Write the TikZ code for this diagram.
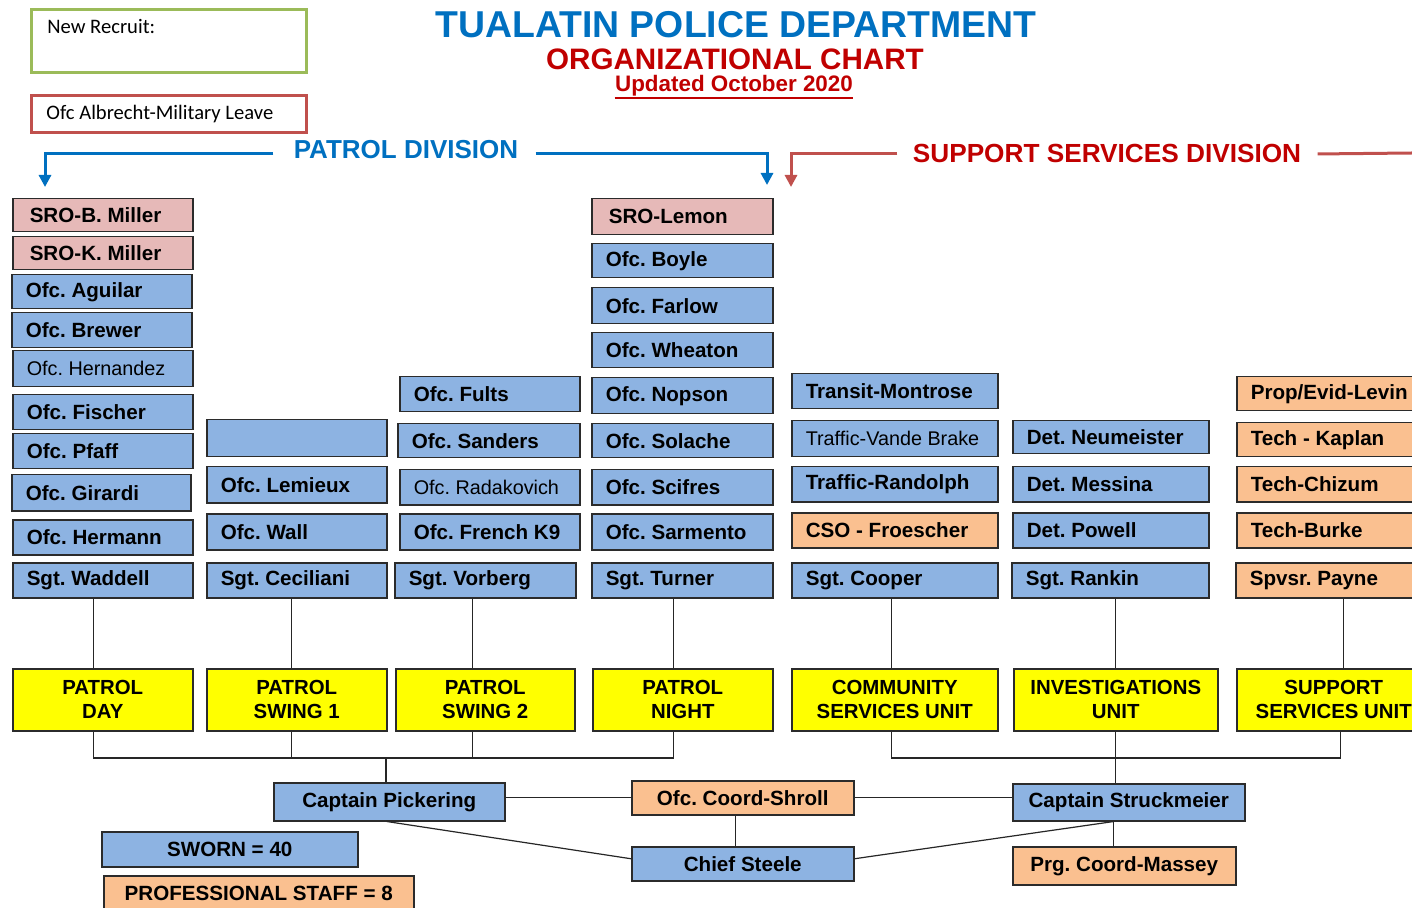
\documentclass[tikz,border=0pt]{standalone}
\usepackage{fontspec}
\setmainfont{Liberation Sans}
\newfontfamily\calfont{Carlito}
\usetikzlibrary{arrows.meta,calc,positioning}
\definecolor{ofcblue}{HTML}{8DB3E2}
\definecolor{sropink}{HTML}{E6B9B8}
\definecolor{civorange}{HTML}{FAC090}
\definecolor{unityellow}{HTML}{FFFF00}
\definecolor{titleblue}{HTML}{0070C0}
\definecolor{titlered}{HTML}{C00000}
\definecolor{ssdred}{HTML}{C0504D}
\definecolor{recruitgreen}{HTML}{9BBB59}
\definecolor{boxline}{HTML}{2B2B2B}

\begin{document}
\begin{tikzpicture}[
  x=0.5pt,y=-0.5pt,
  box/.style={draw=boxline,line width=0.75pt,anchor=north west,inner xsep=7pt,inner ysep=0pt,
              minimum height=17.5pt,align=flush left,
              font=\frenchspacing\fontsize{10.3}{12}\selectfont\bfseries},
  ofc/.style={box,fill=ofcblue},
  sro/.style={box,fill=sropink,inner xsep=8.5pt},
  civ/.style={box,fill=civorange},
  regular/.style={font=\frenchspacing\fontsize{9.9}{12}\selectfont},
  mid/.style={align=flush center},
  c1/.style={text width=76pt},
  c2/.style={text width=76pt},
  c3/.style={text width=76pt},
  c4/.style={text width=76.5pt},
  c5/.style={text width=89pt},
  c6/.style={text width=84pt},
  c7/.style={text width=83pt},
  unit/.style={draw=boxline,line width=0.75pt,fill=unityellow,anchor=north west,inner sep=0pt,
               minimum height=31pt,align=flush center,
               font=\frenchspacing\fontsize{10.2}{12}\selectfont\bfseries},
  link/.style={draw=black!85,line width=0.6pt},
  pdarr/.style={-{Triangle[width=6pt,length=6pt]},line width=1.5pt,titleblue},
  ssarr/.style={-{Triangle[width=6pt,length=6pt]},line width=1.5pt,ssdred},
  ssline/.style={line width=1.5pt,ssdred}
]
  \useasboundingbox (0,0) rectangle (1412,908);
  \clip (0,0) rectangle (1412,908);

  \node[draw=recruitgreen,line width=1.5pt,anchor=north west,minimum width=137.5pt,
        minimum height=31.5pt,inner sep=0pt] (recruit) at (30,8) {};
  \node[anchor=base west,inner sep=0pt,font=\calfont\fontsize{10.3}{12}\selectfont]
    (recruitlbl) at (47,34) {New Recruit:};
  \node[draw=ssdred,line width=1.5pt,anchor=north west,minimum height=18.5pt,text width=122.5pt,
        inner xsep=7.5pt,inner ysep=0pt,align=flush left,font=\calfont\fontsize{10.3}{12}\selectfont]
    (leave) at (30,94) {Ofc Albrecht-Military Leave};

  \node[anchor=base,inner sep=0pt,text=titleblue,font=\fontsize{18.7}{22}\selectfont\bfseries]
    (title) at (736,38) {TUALATIN POLICE DEPARTMENT};
  \node[anchor=base,inner sep=0pt,text=titlered,font=\fontsize{14.8}{18}\selectfont\bfseries]
    (subtitle) at (735,70) {ORGANIZATIONAL CHART};
  \node[anchor=base,inner sep=0pt,text=titlered,font=\fontsize{11.2}{14}\selectfont\bfseries]
    (updated) at (734,92) {Updated October 2020};
  \draw[titlered,line width=1pt] ([yshift=-0.3pt]updated.south west) -- ([yshift=-0.3pt]updated.south east);

  \node[anchor=base,inner sep=0pt,text=titleblue,font=\fontsize{13}{16}\selectfont\bfseries]
    (pdiv) at (406,159) {PATROL DIVISION};
  \node[anchor=base,inner sep=0pt,text=titlered,font=\fontsize{13.1}{16}\selectfont\bfseries]
    (sdiv) at (1107,163) {SUPPORT SERVICES DIVISION};
  \coordinate (pdl) at (45,187);
  \coordinate (pdr) at (767,185);
  \coordinate (sdl) at (791,187);
  \coordinate (sde) at (1412,153);
  \draw[pdarr] ([xshift=-10pt,yshift=-1.5pt]pdiv.west) -| (pdl);
  \draw[pdarr] ([xshift=8.5pt,yshift=-1.5pt]pdiv.east) -| (pdr);
  \draw[ssarr] ([xshift=-7.5pt]sdiv.west) -| (sdl);
  \draw[ssline] ([xshift=8pt]sdiv.east) -- (sde);

  \node[sro,text width=73pt,minimum height=16.5pt] (bmiller) at (12,198) {SRO-B. Miller};
  \node[sro,text width=73pt,minimum height=16.5pt] (kmiller) at (12,236) {SRO-K. Miller};
  \node[ofc,c1,minimum height=17pt] (aguilar) at (11,274) {Ofc. Aguilar};
  \node[ofc,c1] (brewer) at (11,312) {Ofc. Brewer};
  \node[ofc,regular,c1,minimum height=18pt] (hernandez) at (12,350) {Ofc. Hernandez};
  \node[ofc,c1] (fischer) at (12,394) {Ofc. Fischer};
  \node[ofc,c1] (pfaff) at (12,433) {Ofc. Pfaff};
  \node[ofc,text width=75.5pt,minimum height=18pt] (girardi) at (11,474) {Ofc. Girardi};
  \node[ofc,c1] (hermann) at (12,519) {Ofc. Hermann};
  \node[ofc,c1] (waddell) at (12,562) {Sgt. Waddell};

  \node[ofc,c2,minimum height=18.5pt] (vacant) at (206,419) {};
  \node[ofc,c2,minimum height=18pt] (lemieux) at (206,466) {Ofc. Lemieux};
  \node[ofc,c2,minimum height=18pt] (wall) at (206,513) {Ofc. Wall};
  \node[ofc,c2] (ceciliani) at (206,562) {Sgt. Ceciliani};

  \node[ofc,c3] (fults) at (399,376) {Ofc. Fults};
  \node[ofc,text width=77pt,minimum height=17pt] (sanders) at (397,423) {Ofc. Sanders};
  \node[ofc,regular,c3] (radakovich) at (399,469) {Ofc. Radakovich};
  \node[ofc,c3,minimum height=18pt] (french) at (399,513) {Ofc. French K9};
  \node[ofc,text width=76.5pt] (vorberg) at (394,562) {Sgt. Vorberg};

  \node[sro,text width=73.5pt,minimum height=18pt] (lemon) at (591,198) {SRO-Lemon};
  \node[ofc,c4,minimum height=17pt] (boyle) at (591,243) {Ofc. Boyle};
  \node[ofc,c4,minimum height=18pt] (farlow) at (591,287) {Ofc. Farlow};
  \node[ofc,c4] (wheaton) at (591,332) {Ofc. Wheaton};
  \node[ofc,c4,minimum height=18pt] (nopson) at (591,377) {Ofc. Nopson};
  \node[ofc,c4,minimum height=17pt] (solache) at (591,423) {Ofc. Solache};
  \node[ofc,c4] (scifres) at (591,469) {Ofc. Scifres};
  \node[ofc,c4,minimum height=18pt] (sarmento) at (591,513) {Ofc. Sarmento};
  \node[ofc,c4] (turner) at (591,562) {Sgt. Turner};

  \node[ofc,c5] (montrose) at (791,373) {Transit-Montrose};
  \node[ofc,regular,c5,minimum height=18pt] (vandebrake) at (791,420) {Traffic-Vande Brake};
  \node[ofc,c5] (randolph) at (791,466) {Traffic-Randolph};
  \node[civ,c5] (froescher) at (791,512) {CSO - Froescher};
  \node[ofc,c5] (cooper) at (791,562) {Sgt. Cooper};

  \node[ofc,c6,minimum height=16.5pt] (neumeister) at (1012,420) {Det. Neumeister};
  \node[ofc,c6] (messina) at (1012,466) {Det. Messina};
  \node[ofc,c6] (powell) at (1012,512) {Det. Powell};
  \node[ofc,text width=84.5pt] (rankin) at (1011,562) {Sgt. Rankin};

  \node[civ,c7,minimum height=17pt] (levin) at (1236,376) {Prop/Evid-Levin};
  \node[civ,c7,minimum height=17pt] (kaplan) at (1236,422) {Tech - Kaplan};
  \node[civ,c7] (chizum) at (1236,466) {Tech-Chizum};
  \node[civ,c7] (burke) at (1236,512) {Tech-Burke};
  \node[civ,text width=83.5pt] (payne) at (1235,562) {Spvsr. Payne};

  \node[unit,text width=90pt] (uday) at (12,668) {PATROL\\DAY};
  \node[unit,text width=90pt] (uswa) at (206,668) {PATROL\\SWING 1};
  \node[unit,text width=89.5pt] (uswb) at (395,668) {PATROL\\SWING 2};
  \node[unit,text width=90pt] (unight) at (592,668) {PATROL\\NIGHT};
  \node[unit,text width=103pt] (ucsu) at (791,668) {COMMUNITY\\SERVICES UNIT};
  \node[unit,text width=102pt] (uinv) at (1013,668) {INVESTIGATIONS\\UNIT};
  \node[unit,text width=97pt] (ussu) at (1236,668) {SUPPORT\\SERVICES UNIT};

  \draw[link] ([xshift=-4.75pt]waddell.south) -- ([xshift=-4.75pt]waddell.south |- uday.north);
  \draw[link] ([xshift=-2.5pt]ceciliani.south) -- ([xshift=-2.5pt]ceciliani.south |- uswa.north);
  \draw[link] ([xshift=-6.25pt]vorberg.south) -- ([xshift=-6.25pt]vorberg.south |- uswb.north);
  \draw[link] ([xshift=-4.25pt]turner.south) -- ([xshift=-4.25pt]turner.south |- unight.north);
  \draw[link] ([xshift=-1.5pt]cooper.south) -- ([xshift=-1.5pt]cooper.south |- ucsu.north);
  \draw[link] ([xshift=2.75pt]rankin.south) -- ([xshift=2.75pt]rankin.south |- uinv.north);
  \draw[link] ([xshift=5pt]payne.south) -- ([xshift=5pt]payne.south |- ussu.north);

  \node[ofc,mid,text width=101.5pt,minimum height=19pt] (pickering) at (273,782) {Captain Pickering};
  \node[civ,mid,text width=97pt,minimum height=17pt] (shroll) at (631,780) {Ofc. Coord-Shroll};
  \node[ofc,mid,text width=102pt,minimum height=18.5pt] (struckmeier) at (1012,783) {Captain Struckmeier};
  \node[ofc,mid,text width=97pt,minimum height=17pt] (steele) at (631,846) {Chief Steele};
  \node[civ,mid,text width=97.5pt,minimum height=19pt] (massey) at (1012,846) {Prg. Coord-Massey};
  \node[ofc,mid,text width=114pt] (sworn) at (101,831) {SWORN = 40};
  \node[civ,mid,text width=141pt,minimum height=18pt] (staff) at (103,875) {PROFESSIONAL STAFF = 8};

  \coordinate (pbus) at (386,758);
  \coordinate (sbus) at (1115,758);
  \draw[link] ([xshift=-4.75pt]uday.south) |- (pbus);
  \draw[link] ([xshift=-2.5pt]uswa.south) |- (pbus);
  \draw[link] ([xshift=-6.25pt]uswb.south) |- (pbus);
  \draw[link] ([xshift=-4.5pt]unight.south) |- (pbus);
  \draw[link] (pbus) -- (pbus |- pickering.north);
  \draw[link] ([xshift=-1.5pt]ucsu.south) |- (sbus);
  \draw[link] ([xshift=3.5pt]ussu.south) |- (sbus);
  \draw[link] (uinv.south) -- (uinv.south |- struckmeier.north);

  \draw[link] (pickering.east |- shroll.west) -- (shroll.west);
  \draw[link] (shroll.east) -- (shroll.east -| struckmeier.west);
  \draw[link] ([xshift=-3.5pt]shroll.south) -- ([xshift=-3.5pt]shroll.south |- steele.north);
  \draw[link] ([xshift=-1.25pt]pickering.south) -- ([yshift=2.5pt]steele.west);
  \draw[link] ([yshift=2.5pt]steele.east) -- ([xshift=-7.5pt]struckmeier.south);
  \draw[link] ([xshift=-7.5pt]struckmeier.south) -- ([xshift=-7.5pt]struckmeier.south |- massey.north);
\end{tikzpicture}
\end{document}
